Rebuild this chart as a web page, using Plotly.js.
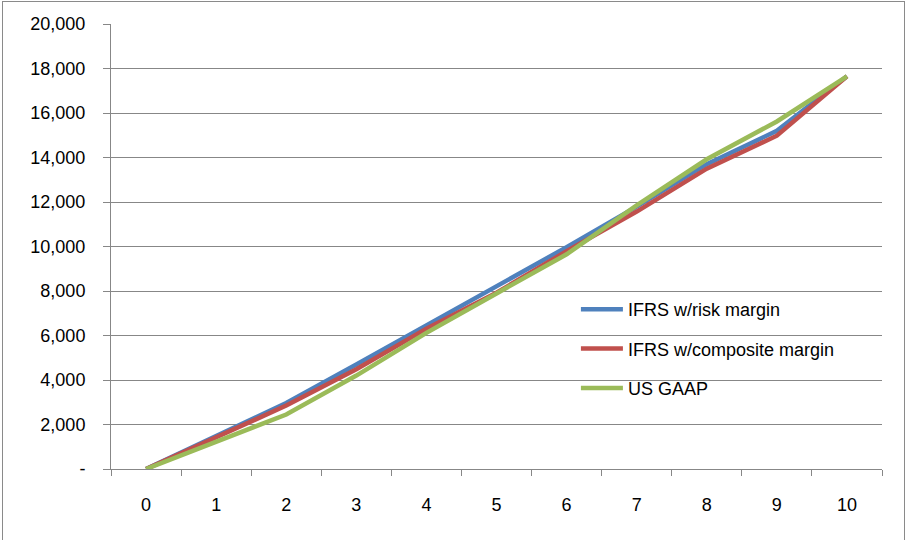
<!DOCTYPE html>
<html>
<head>
<meta charset="utf-8">
<script src="https://cdn.plot.ly/plotly-3.0.1.min.js"></script>
<style>
  html, body { margin: 0; padding: 0; background: #ffffff; }
  #wrap { position: relative; width: 906px; height: 540px; overflow: hidden; }
  #chart { position: absolute; left: 0; top: 0; width: 906px; height: 540px; }
  #frame { position: absolute; left: 2px; top: 1px; width: 901px; height: 600px;
           border: 1px solid #8a8a8a; pointer-events: none; }
</style>
</head>
<body>
<div id="wrap">
  <div id="chart"></div>
  <div id="frame"></div>
</div>
<script>
// Categories (years)
const categories = ["0", "1", "2", "3", "4", "5", "6", "7", "8", "9", "10"];

// Series values
const ifrsRiskMargin      = [0, 1480, 2970, 4700, 6450, 8170, 9970, 11790, 13700, 15200, 17650];
const ifrsCompositeMargin = [0, 1400, 2850, 4480, 6300, 7920, 9790, 11570, 13500, 14980, 17650];
const usGaap              = [0, 1250, 2450, 4200, 6120, 7890, 9650, 11850, 13920, 15620, 17650];

// Series names
const seriesNames = ["IFRS w/risk margin", "IFRS w/composite margin", "US GAAP"];

// Y axis ticks
const yTickValues = [0, 2000, 4000, 6000, 8000, 10000, 12000, 14000, 16000, 18000, 20000];
const yTickLabels = ["-", "2,000", "4,000", "6,000", "8,000", "10,000", "12,000", "14,000", "16,000", "18,000", "20,000"];

const colors = ["#4F81BD", "#C0504D", "#9BBB59"];
const seriesValues = [ifrsRiskMargin, ifrsCompositeMargin, usGaap];

const traces = seriesValues.map((vals, i) => ({
  type: "scatter",
  mode: "lines",
  x: categories,
  y: vals,
  name: seriesNames[i],
  legendgroup: "g" + i,
  line: { color: colors[i], width: 4.5 },
  hoverinfo: "skip"
}));

const gray = "#878787";
const font = { family: "Liberation Sans, Arial, sans-serif", size: 18, color: "#000000" };

const layout = {
  width: 906,
  height: 540,
  margin: { l: 111, r: 24, t: 24, b: 71, pad: 0 },
  paper_bgcolor: "#ffffff",
  plot_bgcolor: "#ffffff",
  font: font,
  showlegend: true,
  legend: {
    x: 0.603, y: 0.40, xanchor: "left", yanchor: "top",
    bgcolor: "rgba(0,0,0,0)",
    font: font,
    itemwidth: 42,
    traceorder: "grouped",
    tracegroupgap: 13
  },
  xaxis: {
    type: "category",
    range: [-0.5, 10.5],
    tickson: "boundaries",
    showgrid: false,
    zeroline: false,
    showline: true,
    linecolor: gray,
    linewidth: 1,
    ticks: "outside",
    ticklen: 6,
    tickcolor: gray,
    tickwidth: 1,
    ticklabelstandoff: 19,
    tickfont: font,
    fixedrange: true
  },
  yaxis: {
    range: [0, 20000],
    tickmode: "array",
    tickvals: yTickValues,
    ticktext: yTickLabels,
    showgrid: true,
    gridcolor: gray,
    gridwidth: 1,
    zeroline: false,
    showline: true,
    linecolor: gray,
    linewidth: 1,
    ticks: "outside",
    ticklen: 7,
    tickcolor: gray,
    tickwidth: 1,
    ticklabelstandoff: 14,
    tickfont: font,
    fixedrange: true
  }
};

Plotly.newPlot("chart", traces, layout, { staticPlot: true, displayModeBar: false });
</script>
</body>
</html>
